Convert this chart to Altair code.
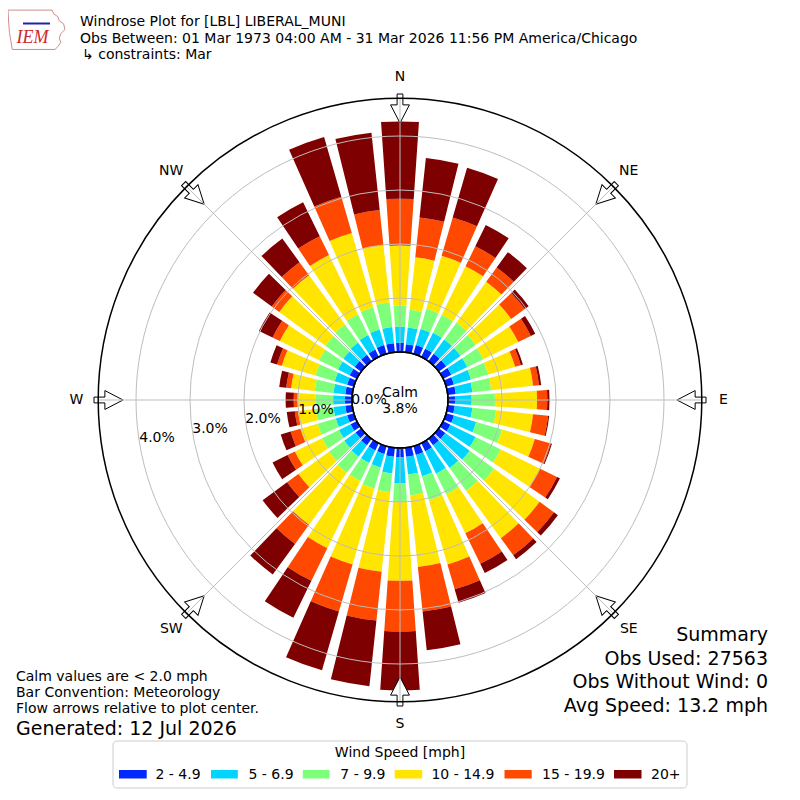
import altair as alt
import pandas as pd

# ---------------- data (percent of observations) ----------------
directions = list(range(0, 360, 10))
speed_bins = ["2 - 4.9", "5 - 6.9", "7 - 9.9", "10 - 14.9", "15 - 19.9", "20+"]
bin_colors = ["#0028ff", "#00d4ff", "#7dff7a", "#ffe500", "#ff4800", "#7f0000"]

pct_2_5 = [0.17, 0.15, 0.17, 0.17, 0.17, 0.17, 0.17, 0.15, 0.15, 0.13, 0.13, 0.15,
           0.15, 0.15, 0.15, 0.17, 0.17, 0.17, 0.17, 0.17, 0.15, 0.15, 0.15, 0.13,
           0.13, 0.13, 0.13, 0.13, 0.13, 0.13, 0.15, 0.15, 0.15, 0.15, 0.17, 0.17]
pct_5_7 = [0.30, 0.31, 0.31, 0.33, 0.33, 0.33, 0.33, 0.33, 0.31, 0.31, 0.33, 0.43,
           0.52, 0.56, 0.52, 0.46, 0.41, 0.33, 0.48, 0.31, 0.26, 0.26, 0.26, 0.26,
           0.24, 0.22, 0.22, 0.22, 0.22, 0.24, 0.24, 0.26, 0.28, 0.30, 0.30, 0.30]
pct_7_10 = [0.39, 0.33, 0.39, 0.37, 0.39, 0.35, 0.33, 0.33, 0.35, 0.43, 0.44, 0.50,
            0.52, 0.56, 0.52, 0.43, 0.46, 0.39, 0.35, 0.35, 0.41, 0.37, 0.37, 0.35,
            0.35, 0.35, 0.33, 0.33, 0.35, 0.37, 0.39, 0.41, 0.41, 0.43, 0.43, 0.46]
pct_10_15 = [1.11, 0.98, 1.02, 1.00, 0.93, 0.81, 0.72, 0.52, 0.78, 0.78, 0.69, 0.63,
             0.81, 1.04, 1.09, 0.80, 1.24, 1.33, 1.46, 1.48, 1.46, 1.39, 1.19, 0.70,
             0.56, 0.33, 0.33, 0.33, 0.44, 0.65, 0.81, 1.06, 1.13, 1.22, 1.43, 1.07]
pct_15_20 = [0.87, 0.74, 0.74, 0.41, 0.33, 0.31, 0.26, 0.11, 0.11, 0.19, 0.28, 0.31,
             0.35, 0.33, 0.39, 0.63, 0.48, 0.83, 0.94, 0.91, 0.91, 0.67, 0.44, 0.26,
             0.15, 0.19, 0.06, 0.07, 0.09, 0.09, 0.15, 0.17, 0.30, 0.39, 0.70, 0.65]
pct_20p = [1.43, 1.11, 0.96, 0.44, 0.35, 0.09, 0.09, 0.04, 0.04, 0.04, 0.02, 0.02,
           0.06, 0.09, 0.09, 0.19, 0.26, 0.72, 1.09, 1.22, 1.13, 0.76, 0.70, 0.56,
           0.31, 0.19, 0.15, 0.15, 0.13, 0.13, 0.28, 0.43, 0.54, 0.70, 1.15, 1.44]

calm_label = ["Calm", "3.8%"]
ring_ticks = [0, 1, 2, 3, 4]
compass_names = ["N", "NE", "E", "SE", "S", "SW", "W", "NW"]
compass_deg = [0, 45, 90, 135, 180, 225, 270, 315]

title_lines = ["Windrose Plot for [LBL] LIBERAL_MUNI",
               "Obs Between: 01 Mar 1973 04:00 AM - 31 Mar 2026 11:56 PM America/Chicago",
               "\u21b3 constraints: Mar"]
note_lines = ["Calm values are < 2.0 mph", "Bar Convention: Meteorology",
              "Flow arrows relative to plot center."]
generated_line = "Generated: 12 Jul 2026"
summary_lines = ["Summary", "Obs Used: 27563", "Obs Without Wind: 0", "Avg Speed: 13.2 mph"]
legend_title = "Wind Speed [mph]"

# ---------------- layout constants ----------------
W = H = 784
CX, CY = 392, 392
R_IN = 48          # px radius of 0 %
PX_PCT = 54        # px per percent
R_OUT = 4.7        # outer circle in percent
HALF_W = 3.9       # half angular width of a bar (deg)
FONT = "DejaVu Sans"
GRID = "#bdbdbd"

series = [pct_2_5, pct_5_7, pct_7_10, pct_10_15, pct_15_20, pct_20p]
for s in series:
    assert len(s) == len(directions)

rows = []
for i, d in enumerate(directions):
    base = 0.0
    for b, s in zip(speed_bins, series):
        rows.append({"dir": d, "bin": b, "r0": base, "r1": base + s[i],
                     "t0": d - HALF_W, "t1": d + HALF_W})
        base += s[i]
bars_df = pd.DataFrame(rows)

theta_scale = alt.Scale(domain=[0, 360], range=[0, 6.283185307179586])
radius_scale = alt.Scale(type="linear", domain=[0, R_OUT],
                         range=[R_IN, R_IN + PX_PCT * R_OUT], zero=False, nice=False)
color_scale = alt.Scale(domain=speed_bins, range=bin_colors)

center = dict(x=alt.value(CX), y=alt.value(CY))

bars = alt.Chart(bars_df).mark_arc().encode(
    theta=alt.Theta("t0:Q", scale=theta_scale, stack=None),
    theta2="t1:Q",
    radius=alt.Radius("r1:Q", scale=radius_scale, stack=None),
    radius2="r0:Q",
    color=alt.Color("bin:N", scale=color_scale, legend=None),
    **center,
)

full = 6.283185307179586


def circle_layer(values, **mark):
    return alt.Chart(pd.DataFrame({"pct": values})).mark_arc(
        theta=0, theta2=full, **mark
    ).encode(radius=alt.Radius("pct:Q", scale=radius_scale, stack=None), **center)


rings = circle_layer(ring_ticks[1:], fillOpacity=0, stroke=GRID, strokeWidth=1)
outer = circle_layer([R_OUT], fillOpacity=0, stroke="#000000", strokeWidth=1.5)
calm = circle_layer([0], fill="white", stroke="#000000", strokeWidth=1.4)


def polar(r_px, prefix):
    return {prefix + "x": f"{CX} + {r_px}*sin(datum.ang*PI/180)",
            prefix + "y": f"{CY} - {r_px}*cos(datum.ang*PI/180)"}


px = lambda f: alt.X(f, scale=None, axis=None)
py = lambda f: alt.Y(f, scale=None, axis=None)

comp_df = pd.DataFrame({"ang": compass_deg, "t": compass_names})

spokes = alt.Chart(comp_df).transform_calculate(
    **polar(R_IN, "a"), **polar(R_IN + PX_PCT * R_OUT, "b")
).mark_rule(stroke=GRID, strokeWidth=1).encode(
    x=px("ax:Q"), y=py("ay:Q"), x2="bx:Q", y2="by:Q")

ARROW = "M-0.2,-1L0.2,-1L0.2,-0.25L0.65,-0.25L0,1L-0.65,-0.25L-0.2,-0.25Z"
arrows = alt.Chart(comp_df).transform_calculate(**polar(291.5, "")).mark_point(
    shape=ARROW, size=841, filled=True, fill="white", fillOpacity=1,
    stroke="#000000", strokeWidth=1, opacity=1
).encode(x=px("x:Q"), y=py("y:Q"), angle=alt.Angle("ang:Q", scale=None))

comp_labels = alt.Chart(comp_df).transform_calculate(**polar(323.5, "")).mark_text(
    font=FONT, fontSize=14, align="center", baseline="middle", color="black"
).encode(x=px("x:Q"), y=py("y:Q"), text="t:N")

tick_df = pd.DataFrame({"k": ring_ticks})
tick_labels = alt.Chart(tick_df).transform_calculate(
    x="361 - 53*datum.k", y="392 + 9.5*datum.k",
    t="format(datum.k, '.1f') + '%'"
).mark_text(font=FONT, fontSize=14, align="center", baseline="middle", color="black").encode(
    x=px("x:Q"), y=py("y:Q"), text="t:N")


def text_layer(texts, xs, ys, size, align="left", baseline="alphabetic",
               color="black", font=FONT, style="normal"):
    df = pd.DataFrame({"t": texts, "x": xs, "y": ys})
    return alt.Chart(df).mark_text(
        font=font, fontSize=size, align=align, baseline=baseline,
        color=color, fontStyle=style
    ).encode(x=px("x:Q"), y=py("y:Q"), text="t:N")


titles = text_layer(title_lines, [72, 72, 74], [18, 34.7, 50.7], 14)
calm_txt = text_layer(calm_label, [392, 392], [389, 405], 14, align="center")
notes = text_layer(note_lines, [8, 8, 8], [673, 689.3, 705.3], 14)
gen = text_layer([generated_line], [8], [727], 19)
summary = text_layer(summary_lines, [760] * 4, [633, 656.5, 680, 703.5], 19, align="right")

# logo
logo_txt = text_layer(["IEM"], [8.5], [35.3], 18, color="#cc2a2a",
                      font="Liberation Serif", style="italic")
IOWA = ("M-1,-0.68L0.55,-0.68L0.6,-0.55L0.75,-0.45L0.8,-0.3L0.95,-0.2L1,0L0.85,0.15"
        "L0.8,0.3L0.85,0.45L0.75,0.6L0.65,0.7L-0.85,0.7L-0.9,0.4L-0.95,0.1L-0.98,-0.3Z")
logo_shape = alt.Chart(pd.DataFrame({"x": [28.5], "y": [21.5]})).mark_point(
    shape=IOWA, size=3249, filled=False, stroke="#d08c8c", strokeWidth=1, opacity=1
).encode(x=px("x:Q"), y=py("y:Q"))
logo_bar = alt.Chart(pd.DataFrame({"x": [15], "x2": [42], "y": [15.5]})).mark_rule(
    color="#1f22a8", strokeWidth=2
).encode(x=px("x:Q"), x2="x2:Q", y=py("y:Q"))

# legend (drawn by hand to match the boxed horizontal legend)
leg_box = alt.Chart(pd.DataFrame({"a": [0]})).mark_rect(
    fill="white", stroke="#cccccc", strokeWidth=1, cornerRadius=4
).encode(x=alt.value(105), x2=alt.value(679), y=alt.value(733), y2=alt.value(780))
leg_df = pd.DataFrame({
    "bin": speed_bins,
    "sx0": [111, 203, 294.8, 386.7, 496.5, 606],
    "sx1": [138.7, 229.8, 321.6, 414.2, 523.7, 633.5],
    "lx": [147.5, 240.5, 332.3, 423.4, 534, 643],
})
leg_sw = alt.Chart(leg_df).mark_rect().encode(
    x=px("sx0:Q"), x2="sx1:Q", y=alt.value(762), y2=alt.value(770.5),
    color=alt.Color("bin:N", scale=color_scale, legend=None))
leg_lab = alt.Chart(leg_df).transform_calculate(y="771").mark_text(
    font=FONT, fontSize=14, align="left", baseline="alphabetic", color="black"
).encode(x=px("lx:Q"), y=py("y:Q"), text="bin:N")
leg_title = text_layer([legend_title], [392], [749], 14, align="center")

chart = alt.layer(
    bars, rings, arrows, spokes, calm, outer, calm_txt, tick_labels, comp_labels,
    titles, notes, gen, summary, logo_shape, logo_bar, logo_txt,
    leg_box, leg_sw, leg_lab, leg_title,
).properties(
    width=W, height=H, padding=0, autosize=alt.AutoSizeParams(type="none")
).configure_view(stroke="transparent")

chart.save("out.html", embed_options={"renderer": "svg", "actions": False})
